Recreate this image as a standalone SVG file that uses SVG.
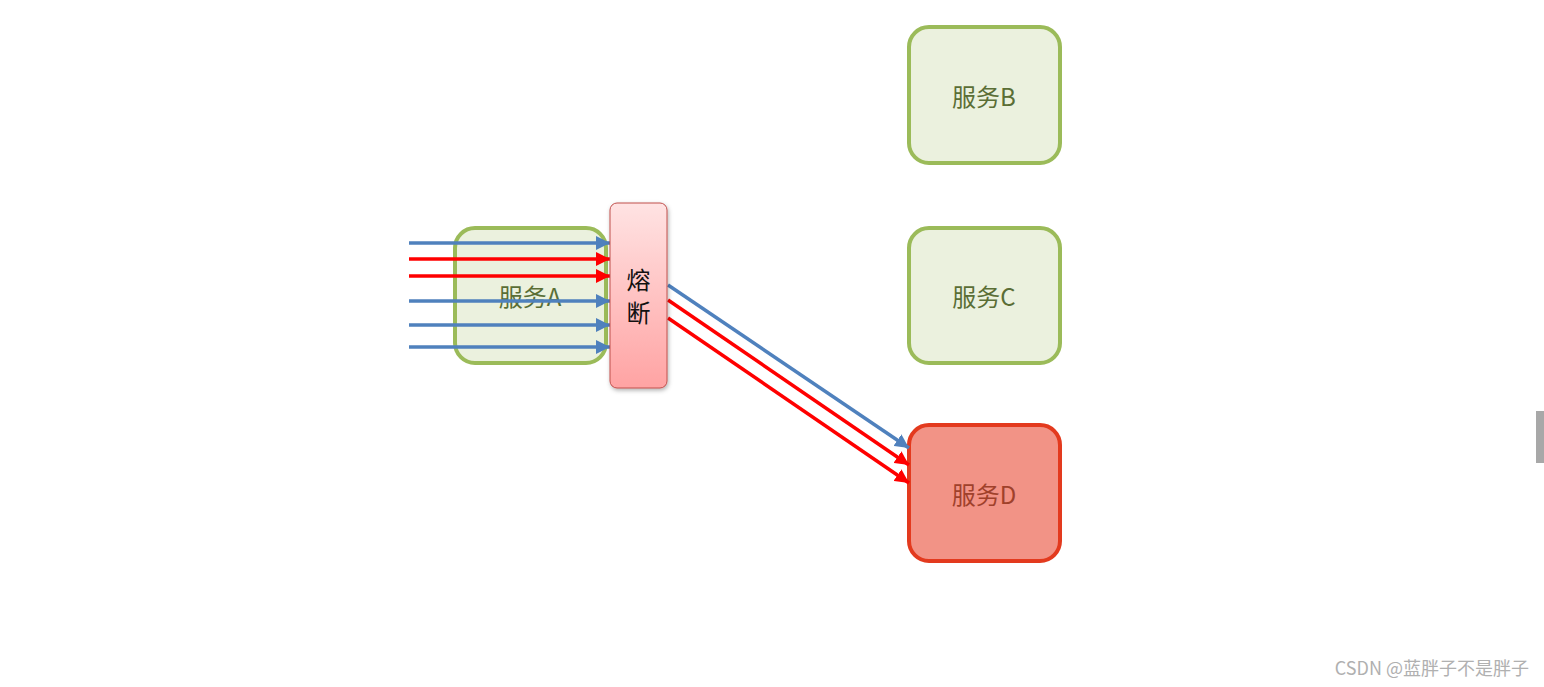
<svg xmlns="http://www.w3.org/2000/svg" width="1544" height="687" viewBox="0 0 1544 687">
<style>
.svc{fill:#EBF1DE;stroke:#9BBB59;stroke-width:4}
.bad{fill:#F29386;stroke:#E33A1E;stroke-width:4}
.t{font-family:"Noto Sans CJK SC","Liberation Sans",sans-serif;font-size:24px;text-anchor:middle;dominant-baseline:central}
.g{fill:#5A6E35}
.blue{stroke:#4F81BD;stroke-width:3.5;fill:none}
.red{stroke:#FF0000;stroke-width:3.5;fill:none}
</style>
<defs>
<marker id="ab" viewBox="0 0 10 10" refX="10" refY="5" markerWidth="4" markerHeight="4" orient="auto" markerUnits="strokeWidth"><path d="M0,0L10,5L0,10z" fill="#4F81BD"/></marker>
<marker id="ar" viewBox="0 0 10 10" refX="10" refY="5" markerWidth="4" markerHeight="4" orient="auto" markerUnits="strokeWidth"><path d="M0,0L10,5L0,10z" fill="#FF0000"/></marker>
<linearGradient id="brk" x1="0" y1="0" x2="0" y2="1"><stop offset="0" stop-color="#FFE3E3"/><stop offset="1" stop-color="#FFA3A3"/></linearGradient>
<filter id="sh" x="-20%" y="-10%" width="150%" height="130%"><feDropShadow dx="1" dy="2" stdDeviation="2" flood-color="#000" flood-opacity="0.3"/></filter>
</defs>
<g id="serviceA"><rect class="svc" x="455" y="228" width="151" height="135" rx="20"/><text class="t g" x="530" y="295">服务A</text></g>
<g id="serviceB"><rect class="svc" x="909" y="27" width="151" height="136" rx="20"/><text class="t g" x="984" y="95">服务B</text></g>
<g id="serviceC"><rect class="svc" x="909" y="228" width="151" height="135" rx="20"/><text class="t g" x="984" y="295">服务C</text></g>
<g id="serviceD"><rect class="bad" x="909" y="425" width="151" height="136" rx="20"/><text class="t" fill="#A0412B" x="984" y="493">服务D</text></g>
<g id="connectors">
<line class="blue" x1="409" y1="243" x2="610" y2="243" marker-end="url(#ab)"/>
<line class="red" x1="409" y1="259" x2="610" y2="259" marker-end="url(#ar)"/>
<line class="red" x1="409" y1="276" x2="610" y2="276" marker-end="url(#ar)"/>
<line class="blue" x1="409" y1="301" x2="610" y2="301" marker-end="url(#ab)"/>
<line class="blue" x1="409" y1="325" x2="610" y2="325" marker-end="url(#ab)"/>
<line class="blue" x1="409" y1="347" x2="610" y2="347" marker-end="url(#ab)"/>
<line class="blue" x1="668" y1="285" x2="909" y2="448" marker-end="url(#ab)"/>
<line class="red" x1="668" y1="300" x2="909" y2="465" marker-end="url(#ar)"/>
<line class="red" x1="668" y1="318" x2="909" y2="483" marker-end="url(#ar)"/>
</g>
<g id="breaker"><rect x="610" y="203" width="57" height="185" rx="7" fill="url(#brk)" stroke="#C0504D" stroke-width="1" filter="url(#sh)"/><text class="t" fill="#111" x="638.5" y="278">熔</text><text class="t" fill="#111" x="638.5" y="311">断</text></g>
<rect x="1536" y="411" width="8" height="52" fill="#A8A8A8"/>
<text x="1529" y="667" font-family="'Noto Sans CJK SC','Liberation Sans',sans-serif" font-size="18" fill="#B0B0B0" text-anchor="end" dominant-baseline="central">CSDN @蓝胖子不是胖子</text>
</svg>
